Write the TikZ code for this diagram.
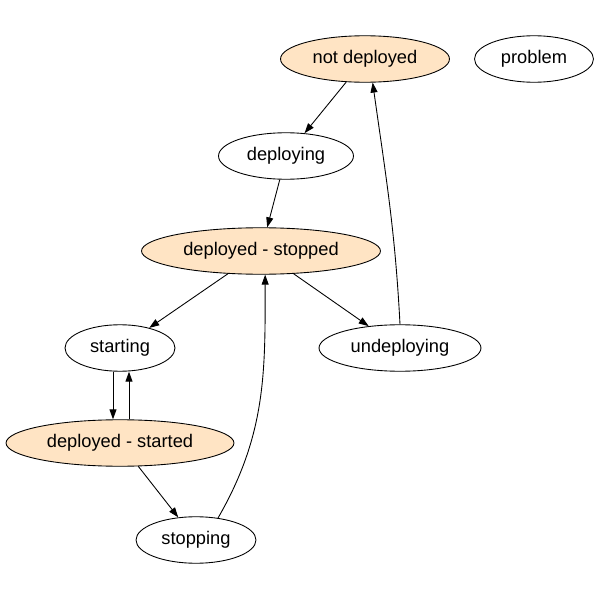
\documentclass[tikz,border=0pt]{standalone}
\usepackage{fontspec}
\setmainfont{Liberation Sans}
\usepackage{tikz}
\usetikzlibrary{shapes.geometric,arrows.meta}
\definecolor{stablefill}{RGB}{255,228,196}
\tikzset{
  state/.style={draw,ellipse,inner sep=0pt,minimum height=0.93cm,line width=0.5pt,
    font=\fontsize{10.4}{12}\selectfont},
  stable/.style={state,fill=stablefill},
  trans/.style={-{Triangle[length=2mm,width=1.4mm]},line width=0.5pt}
}

\begin{document}
\begin{tikzpicture}[x=0.02cm,y=0.02cm]
\useasboundingbox (0,0) rectangle (600,600);

%top row
\node[stable,minimum width=3.38cm] (notdep) at (365,541) {not deployed};
\node[state,minimum width=2.38cm] (problem) at (534,541) {problem};

%deploy
\node[state,minimum width=2.7cm] (deploying) at (286,444) {deploying};
\node[stable,minimum width=4.78cm] (depstopped) at (261,349) {deployed - stopped};

%start / undeploy
\node[state,minimum width=2.2cm] (starting) at (120,252) {starting};
\node[state,minimum width=3.24cm] (undeploying) at (400,252) {undeploying};

%started
\node[stable,minimum width=4.56cm] (depstarted) at (120,157) {deployed - started};
\node[state,minimum width=2.4cm] (stopping) at (196,60) {stopping};

%transitions
\draw[trans] (notdep) -- (deploying);
\draw[trans] (deploying) -- (depstopped);
\draw[trans] (depstopped) -- (starting);
\draw[trans] (depstopped) -- (undeploying);
\draw[trans] (undeploying.north) to[out=93,in=-82] (notdep.-72);

%start loop
\draw[trans] ([xshift=-0.14cm]starting.south) -- ([xshift=-0.14cm]starting.south |- depstarted.north);
\draw[trans] ([xshift=0.18cm]starting.south |- depstarted.north) -- ([xshift=0.18cm]starting.south);

%stop
\draw[trans] (depstarted) -- (stopping);
\draw[trans] (stopping.45) to[out=60,in=-90] (depstopped.-80);
\end{tikzpicture}
\end{document}
